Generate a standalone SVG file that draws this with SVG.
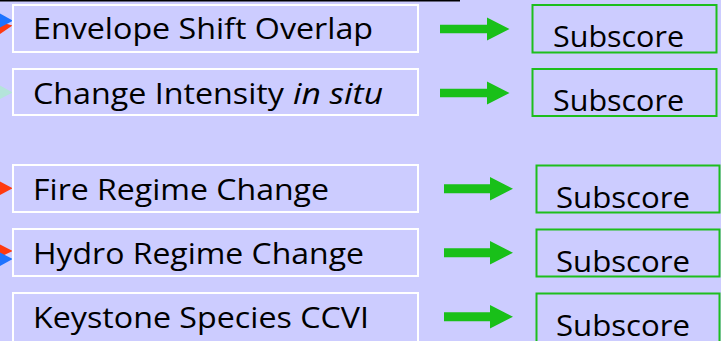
<svg xmlns="http://www.w3.org/2000/svg" xmlns:xlink="http://www.w3.org/1999/xlink" width="721" height="341" viewBox="0 0 721 341">
  <style>
    .factor { fill: none; stroke: #FFFFFF; stroke-width: 2; }
    .score { fill: none; stroke: #1DBE1D; stroke-width: 2; }
    .label { font-family: "Open Sans", "Noto Sans", "Liberation Sans", sans-serif; font-size: 29.5px; fill: #000000; }
    .arrow { fill: #19C019; }
    .red { fill: #FF3A10; }
    .blue { fill: #1E73FF; }
    .mint { fill: #B4E4DA; }
  </style>
  <defs>
    <!-- block arrow, origin at the shaft's left end on the centre line -->
    <polygon id="arrowA" points="0,-4.2 47,-4.2 47,-11.5 69.5,0 47,11.5 47,4.2 0,4.2"/>
    <polygon id="arrowB" points="0,-4.5 46,-4.5 46,-11.7 69,0 46,11.7 46,4.5 0,4.5"/>
  </defs>

  <rect width="721" height="341" fill="#CCCCFF"/>
  <rect x="0" y="0" width="460" height="1.5" fill="#000000"/>

  <!-- incoming arrowheads at the left margin -->
  <g id="incoming">
    <polygon class="red" points="0,22 12.5,25.5 0,34"/>
    <polygon class="blue" points="0,13.5 13,20.8 0,27.5"/>
    <polygon class="mint" points="0,85.5 12.7,92.5 0,99"/>
    <polygon class="red" points="0,181.5 12.7,188.3 0,195"/>
    <polygon class="red" points="0,244.5 12.7,251 0,257"/>
    <polygon class="blue" points="0,252.5 12.7,259 0,266"/>
  </g>

  <g id="factor-envelope">
    <rect class="factor" x="13" y="5" width="405" height="47"/>
    <text class="label" x="33" y="39" textLength="340" lengthAdjust="spacingAndGlyphs">Envelope Shift Overlap</text>
  </g>
  <g id="factor-intensity">
    <rect class="factor" x="13" y="69" width="405" height="46"/>
    <text class="label" y="104"><tspan x="33" textLength="251" lengthAdjust="spacingAndGlyphs">Change Intensity</tspan><tspan x="293" font-style="italic" textLength="90" lengthAdjust="spacingAndGlyphs">in situ</tspan></text>
  </g>
  <g id="factor-fire">
    <rect class="factor" x="13" y="165" width="405" height="47"/>
    <text class="label" x="33" y="200" textLength="296" lengthAdjust="spacingAndGlyphs">Fire Regime Change</text>
  </g>
  <g id="factor-hydro">
    <rect class="factor" x="13" y="229" width="405" height="47"/>
    <text class="label" x="33" y="263.5" textLength="331" lengthAdjust="spacingAndGlyphs">Hydro Regime Change</text>
  </g>
  <g id="factor-keystone">
    <rect class="factor" x="13" y="293" width="405" height="60"/>
    <text class="label" x="33" y="328" textLength="336" lengthAdjust="spacingAndGlyphs">Keystone Species CCVI</text>
  </g>

  <g id="connectors" class="arrow">
    <use xlink:href="#arrowA" x="440" y="29"/>
    <use xlink:href="#arrowA" x="440" y="93"/>
    <use xlink:href="#arrowB" x="444" y="188.8"/>
    <use xlink:href="#arrowB" x="444" y="252.8"/>
    <use xlink:href="#arrowB" x="444" y="316.8"/>
  </g>

  <g id="subscore-envelope">
    <rect class="score" x="532.5" y="5" width="184" height="47.5"/>
    <text class="label" x="553" y="46.5" textLength="131" lengthAdjust="spacingAndGlyphs">Subscore</text>
  </g>
  <g id="subscore-intensity">
    <rect class="score" x="532.5" y="69" width="184" height="47"/>
    <text class="label" x="553" y="111" textLength="131" lengthAdjust="spacingAndGlyphs">Subscore</text>
  </g>
  <g id="subscore-fire">
    <rect class="score" x="536.5" y="165.5" width="183" height="47"/>
    <text class="label" x="556" y="208" textLength="134" lengthAdjust="spacingAndGlyphs">Subscore</text>
  </g>
  <g id="subscore-hydro">
    <rect class="score" x="536.5" y="229.5" width="183" height="47"/>
    <text class="label" x="556" y="272" textLength="134" lengthAdjust="spacingAndGlyphs">Subscore</text>
  </g>
  <g id="subscore-keystone">
    <rect class="score" x="536.5" y="293.5" width="183" height="60"/>
    <text class="label" x="556" y="335.5" textLength="134" lengthAdjust="spacingAndGlyphs">Subscore</text>
  </g>
</svg>
